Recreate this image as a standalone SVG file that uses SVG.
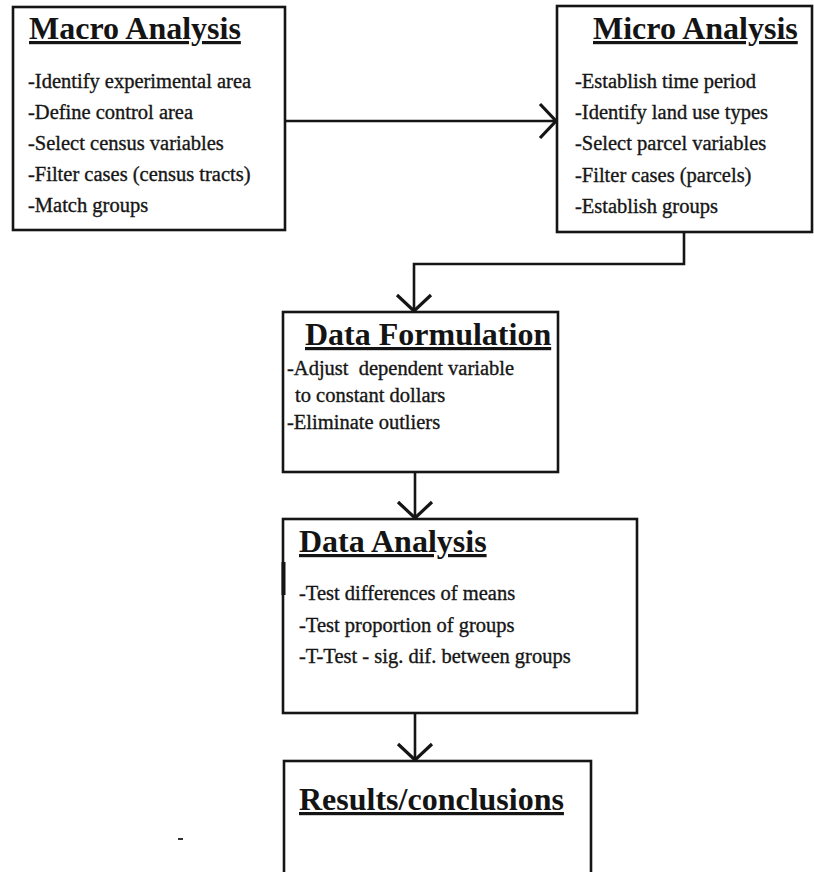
<svg xmlns="http://www.w3.org/2000/svg" width="814" height="872" viewBox="0 0 814 872">
<defs>
<style>
.box{fill:#fff;stroke:#151515;stroke-width:2.6}
.h{font-family:"Liberation Serif","Times New Roman",serif;font-weight:bold;font-size:32px;fill:#141414;text-decoration:underline}
.t{font-family:"Liberation Serif","Times New Roman",serif;font-size:20.5px;fill:#161616;stroke:#161616;stroke-width:0.35}
.c{fill:none;stroke:#151515;stroke-width:2.6}
</style>
<marker id="chev" viewBox="0 0 20 38" refX="18" refY="19" markerWidth="20" markerHeight="38" markerUnits="userSpaceOnUse" orient="auto">
<path d="M2,2 L18,19 L2,36" fill="none" stroke="#151515" stroke-width="3.2"/>
</marker>
</defs>
<rect width="814" height="872" fill="#fff"/>
<g id="connectors">
<path class="c" d="M285,121 L556,121" marker-end="url(#chev)"/>
<path class="c" d="M684,232 L684,264 L414,264 L414,311" marker-end="url(#chev)"/>
<path class="c" d="M415,472 L415,518" marker-end="url(#chev)"/>
<path class="c" d="M415,713 L415,760" marker-end="url(#chev)"/>
</g>
<g id="macro">
<rect class="box" x="13" y="7" width="272" height="223"/>
<text class="h" x="29" y="39">Macro Analysis</text>
<text class="t" x="28" y="88">-Identify experimental area</text>
<text class="t" x="28" y="119">-Define control area</text>
<text class="t" x="28" y="150">-Select census variables</text>
<text class="t" x="28" y="181">-Filter cases (census tracts)</text>
<text class="t" x="28" y="212">-Match groups</text>
</g>
<g id="micro">
<rect class="box" x="557" y="6" width="255" height="226"/>
<text class="h" x="593" y="39">Micro Analysis</text>
<text class="t" x="575" y="88">-Establish time period</text>
<text class="t" x="575" y="119">-Identify land use types</text>
<text class="t" x="575" y="150">-Select parcel variables</text>
<text class="t" x="575" y="182">-Filter cases (parcels)</text>
<text class="t" x="575" y="213">-Establish groups</text>
</g>
<g id="formulation">
<rect class="box" x="283" y="312" width="275" height="160"/>
<text class="h" x="305" y="345">Data Formulation</text>
<text class="t" x="287" y="375" xml:space="preserve">-Adjust  dependent variable</text>
<text class="t" x="295" y="402">to constant dollars</text>
<text class="t" x="287" y="429">-Eliminate outliers</text>
</g>
<g id="analysis">
<rect class="box" x="283" y="519" width="354" height="194"/>
<rect x="281.5" y="562" width="4" height="33" fill="#151515"/>
<text class="h" x="299" y="552">Data Analysis</text>
<text class="t" x="299" y="600">-Test differences of means</text>
<text class="t" x="299" y="632">-Test proportion of groups</text>
<text class="t" x="299" y="663">-T-Test - sig. dif. between groups</text>
</g>
<g id="results">
<rect class="box" x="284" y="761" width="307" height="114"/>
<text class="h" x="299" y="810">Results/conclusions</text>
</g>
<rect x="178" y="838" width="5" height="2" fill="#333"/>
</svg>
